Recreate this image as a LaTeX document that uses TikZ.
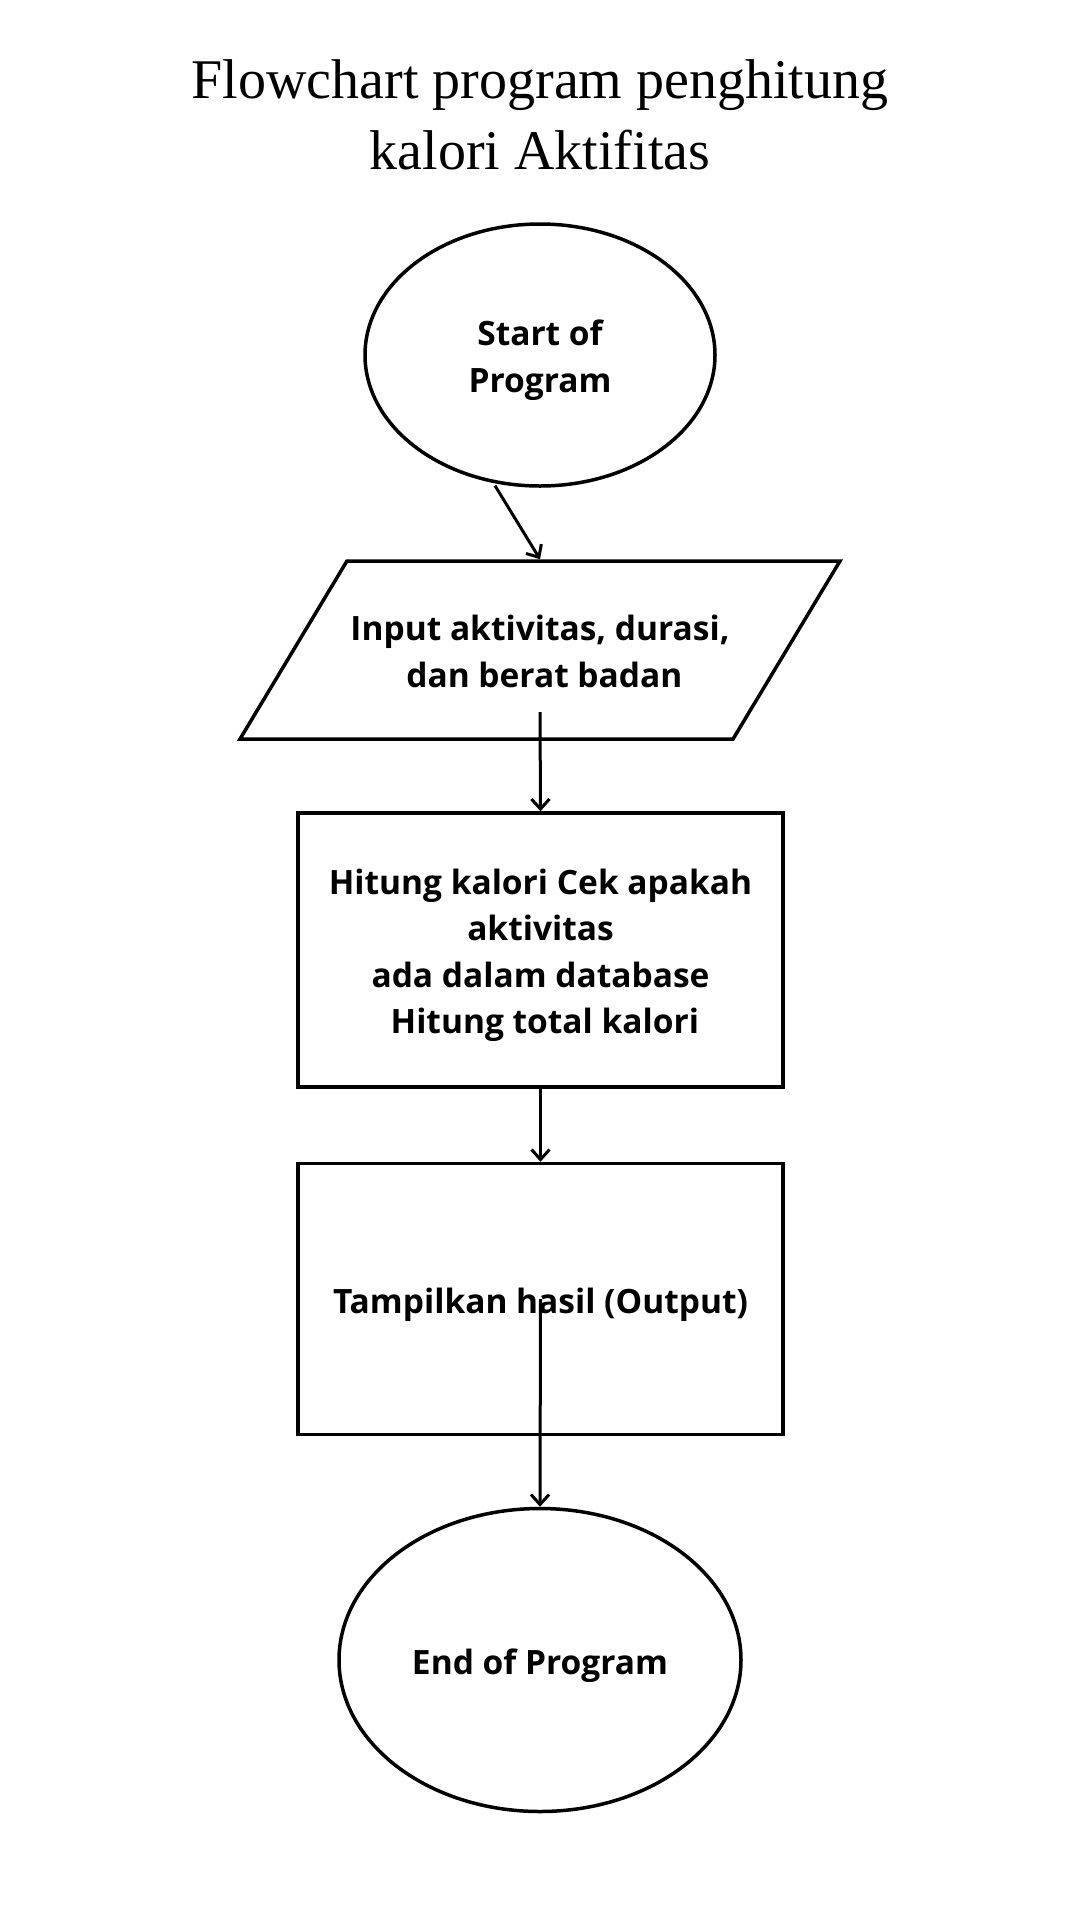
\documentclass[tikz,border=0pt]{standalone}
\usepackage{fontspec}
\setmainfont{Liberation Serif}
\newfontfamily\boxfont{Open Sans}
\usetikzlibrary{shapes.geometric, arrows.meta}

\begin{document}
\begin{tikzpicture}[x=1pt, y=-1pt,
    every node/.style={font=\boxfont\bfseries\fontsize{33.5}{46.5}\selectfont, align=center, inner sep=0pt},
    oneline/.style={text height=37.25pt, text depth=9.25pt},
    twolines/.style={text height=83.75pt, text depth=9.25pt},
    fourlines/.style={text height=176.75pt, text depth=9.25pt},
    terminal/.style={draw, ellipse, line width=3.5pt},
    io/.style={draw, trapezium, trapezium left angle=59, trapezium right angle=121,
      trapezium stretches body, line width=3.5pt, minimum width=600pt, inner ysep=42.5pt},
    process/.style={draw, rectangle, line width=3.5pt, minimum width=485pt},
    flow/.style={-{Straight Barb[length=10pt, width=18pt, line width=3pt]}, line width=3pt}]
    \fill [white] (0, 0) rectangle (1080, 1920);
    \useasboundingbox (0, 0) rectangle (1080, 1920);

    \node [font=\rmfamily\fontsize{56}{71}\selectfont] (title) at (540, 115) {Flowchart program penghitung\\kalori Aktifitas};

    \node [terminal, twolines, minimum width=350pt, minimum height=262pt] (start) at (540, 355) {Start of\\Program};
    \node [io, twolines] (input) at (540, 650) {Input aktivitas, durasi,\\\ dan berat badan};
    \node [process, fourlines, minimum height=274pt] (calc) at (540.5, 950) {Hitung kalori Cek apakah\\aktivitas\\ada dalam database\\\ Hitung total kalori};
    \node [process, oneline, minimum height=271pt] (output) at (540.5, 1299) {Tampilkan hasil (Output)};
    \node [terminal, oneline, minimum width=402pt, minimum height=303pt] (end) at (540, 1660) {End of Program};
    \coordinate (inputTail) at (540, 712);

    \draw [flow, shorten <=3pt] (start.250) -- (input.north);
    \draw [flow] (inputTail) -- (calc.north);
    \draw [flow] (calc.south) -- (output.north);
    \draw [flow] (output.center) -- (end.north);
  \end{tikzpicture}
\end{document}
